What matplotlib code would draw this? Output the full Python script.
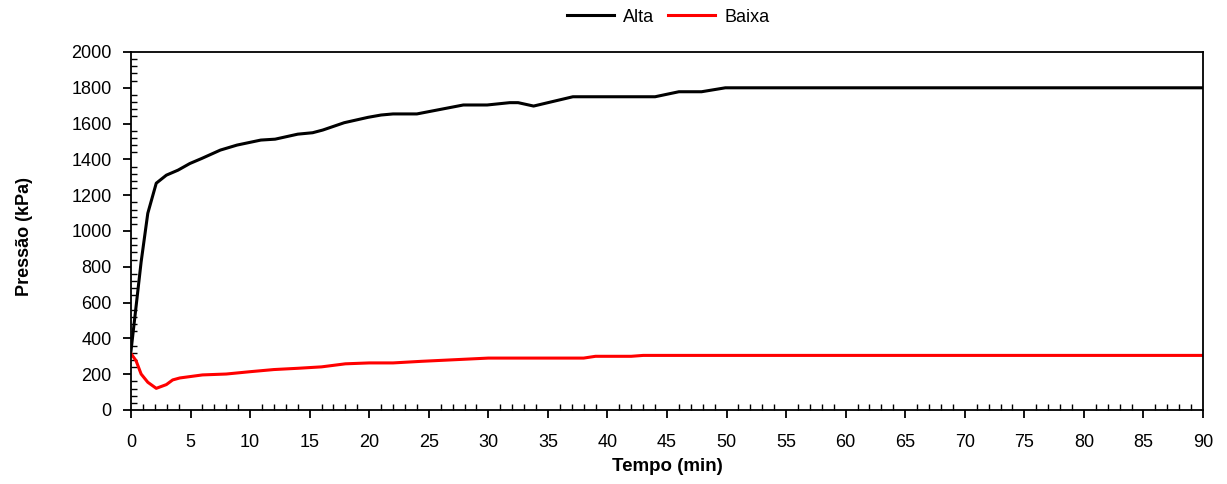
import matplotlib
matplotlib.use("Agg")
import matplotlib.pyplot as plt
from matplotlib.ticker import MultipleLocator

plt.rcParams['font.family'] = ['Liberation Sans', 'DejaVu Sans']

t_alta = [0, 0.42, 0.85, 1.41, 2.12, 2.97, 3.95, 4.94, 5.93, 7.5, 8.9, 10.9, 12.1,
          14, 15.25, 16.1, 17.9, 19.9, 21, 22, 24, 27.9, 29.9, 31.8, 32.5, 33.8,
          37.1, 38, 44, 46, 47.9, 49.9, 90]
alta = [330, 575, 827, 1099, 1267, 1312, 1340, 1377, 1405, 1452, 1480, 1508, 1513,
        1541, 1549, 1564, 1605, 1635, 1648, 1654, 1654, 1704, 1704, 1717, 1717, 1698,
        1750, 1750, 1750, 1778, 1778, 1800, 1800]

t_baixa = [0, 0.42, 0.85, 1.41, 2.12, 2.97, 3.5, 4.1, 6, 8, 10, 12, 14, 16, 18, 20,
           22, 24.4, 30, 38, 39, 42, 43, 90]
baixa = [315, 276, 201, 155, 121, 142, 168, 179, 196, 201, 214, 226, 233, 241, 258,
         263, 263, 272, 290, 290, 300, 300, 305, 305]

fig = plt.figure(figsize=(12.27, 4.84), dpi=100)
ax = fig.add_axes([131/1227, 1-410/484, (1203-131)/1227, (410-52)/484])

ax.plot(t_alta, alta, color='black', lw=2.2, label='Alta')
ax.plot(t_baixa, baixa, color='red', lw=2.2, label='Baixa')

ax.set_xlim(0, 90)
ax.set_ylim(0, 2000)
ax.xaxis.set_major_locator(MultipleLocator(5))
ax.xaxis.set_minor_locator(MultipleLocator(1))
ax.yaxis.set_major_locator(MultipleLocator(200))
ax.yaxis.set_minor_locator(MultipleLocator(40))
ax.tick_params(which='major', direction='out', length=6, width=1.3, labelsize=13)
ax.tick_params(axis='x', which='major', pad=11)
ax.tick_params(axis='y', which='major', pad=8)
ax.tick_params(which='minor', direction='in', length=4, width=1.0)
for s in ax.spines.values():
    s.set_linewidth(1.3)

ax.set_xlabel('Tempo (min)', fontsize=13.5, fontweight='bold')
ax.set_ylabel('Pressão (kPa)', fontsize=13, fontweight='bold')
ax.xaxis.set_label_coords(0.5, (410 - 458)/358)
ax.yaxis.set_label_coords((33 - 131)/1072, 0.5 + (410 - 236 - 179)/358)

fig.legend(loc='center', bbox_to_anchor=(668/1227, 1-17/484), ncol=2, frameon=False,
           fontsize=13, handlelength=2.6, columnspacing=0.8, handletextpad=0.5)

fig.savefig('out.png', dpi=100)
